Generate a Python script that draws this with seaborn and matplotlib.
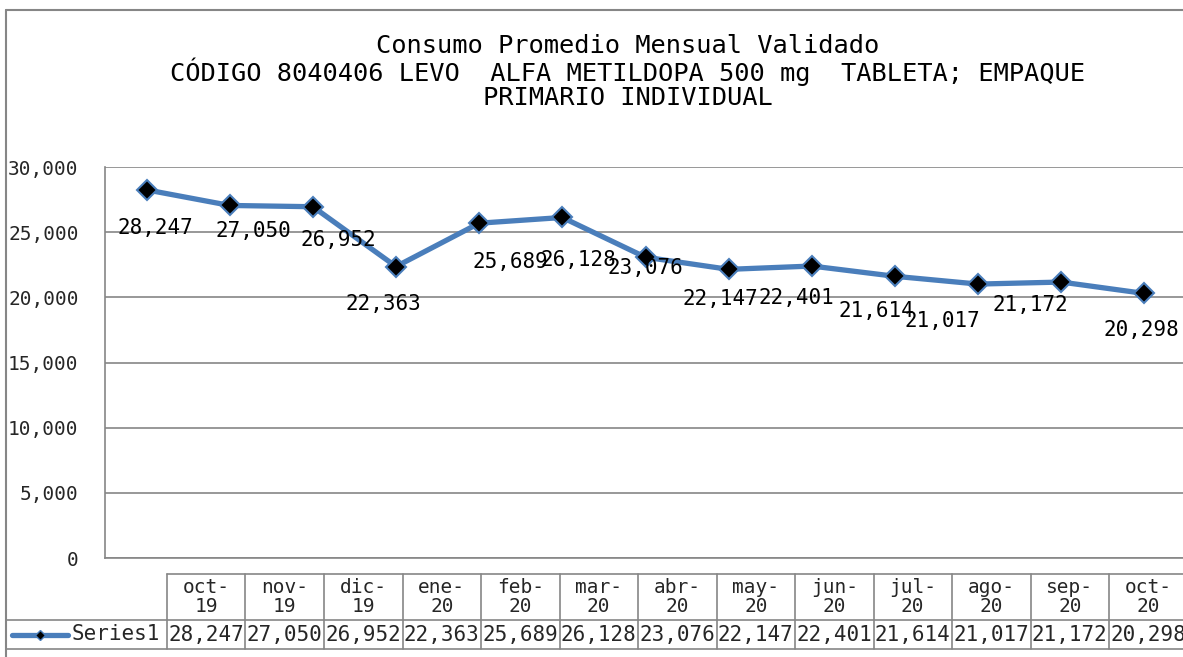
import numpy as np
import pandas as pd
import matplotlib
matplotlib.use("Agg")
import matplotlib.pyplot as plt
import seaborn as sns
from matplotlib.lines import Line2D

# ---- data ----
months = ["oct-\n19", "nov-\n19", "dic-\n19", "ene-\n20", "feb-\n20", "mar-\n20", "abr-\n20",
          "may-\n20", "jun-\n20", "jul-\n20", "ago-\n20", "sep-\n20", "oct-\n20"]
values = [28247, 27050, 26952, 22363, 25689, 26128, 23076, 22147, 22401, 21614, 21017, 21172, 20298]
series_name = "Series1"
title_lines = ["Consumo Promedio Mensual Validado",
               "CÓDIGO 8040406 LEVO  ALFA METILDOPA 500 mg  TABLETA; EMPAQUE",
               "PRIMARIO INDIVIDUAL"]
yticks = [0, 5000, 10000, 15000, 20000, 25000, 30000]

# label offsets in pixels (dx right, dy down) – layout only
label_offsets = [(9, 38), (24, 26), (25, 33), (-13, 37), (31, 39), (16, 43), (0, 11),
                 (-8, 30), (-15, 32), (-19, 35), (-36, 37), (-31, 23), (-3, 37)]

sns.set_style("white")
plt.rcParams['font.family'] = ['DejaVu Sans Mono', 'DejaVu Sans']

W, H = 1183, 657
fig = plt.figure(figsize=(W / 100, H / 100), dpi=100)

def fx(px):
    return px / W

def fy(py):
    return 1 - py / H

LINE_C = "#4a7ebb"
GRID_C = "#868686"

# main plot axes
left, right, top, bottom = 105, 1186, 167, 558
ax = fig.add_axes([fx(left), fy(bottom), (right - left) / W, (bottom - top) / H])
df = pd.DataFrame({"x": np.arange(len(values)), "y": values})
sns.lineplot(data=df, x="x", y="y", ax=ax, color=LINE_C, linewidth=3.8,
             marker="D", markersize=10.5, markerfacecolor="black",
             markeredgecolor=LINE_C, markeredgewidth=1.5, clip_on=False)
ax.set_xlim(-0.5, len(values) - 0.5)
ax.set_ylim(0, 30000)
ax.set_yticks(yticks)
ax.set_yticklabels([f"{v:,}" for v in yticks], fontsize=14)
ax.set_xticks([])
ax.set_xlabel("")
ax.set_ylabel("")
ax.tick_params(axis="y", length=0, pad=19)
ax.yaxis.grid(True, color=GRID_C, linewidth=1.2)
for s in ["top", "right"]:
    ax.spines[s].set_visible(False)
for s in ["left", "bottom"]:
    ax.spines[s].set_color(GRID_C)
    ax.spines[s].set_linewidth(1.2)

for i, v in enumerate(values):
    dx, dy = label_offsets[i]
    ax.annotate(f"{v:,}", (i, v), xytext=(dx, -dy), textcoords="offset pixels",
                ha="center", va="center", fontsize=15, color="black")

# title
fig.text(fx(628), fy(72), "\n".join(title_lines), ha="center", va="center",
         fontsize=18.3, linespacing=1.0, color="black")

# data table
col_left = 167
col_w = 78.5
n = len(values)
tax = fig.add_axes([fx(col_left), fy(649), n * col_w / W, (649 - 574) / H])
tax.set_xlim(0, n)
tax.set_ylim(0, 75)  # pixel units from bottom
tax.axis("off")
y_mid = 75 - (620 - 574)  # data row top in axes coords
lab_w = (col_left - 6) / col_w
kw = dict(color=GRID_C, linewidth=1.2, clip_on=False)
tax.plot([0, n + 1], [75, 75], **kw)
tax.plot([-lab_w, n + 1], [y_mid, y_mid], **kw)
tax.plot([-lab_w, n + 1], [0, 0], **kw)
for i in range(n + 1):
    tax.plot([i, i], [0, 75], **kw)
for i, m in enumerate(months):
    tax.text(i + 0.5, 75 - 23, m, ha="center", va="center", fontsize=14,
             linespacing=0.95)
    tax.text(i + 0.5, y_mid / 2, f"{values[i]:,}", ha="center", va="center",
             fontsize=15)
# legend key in table
key_y = y_mid / 2
tax.plot([-(col_left - 12) / col_w, -(col_left - 68) / col_w], [key_y, key_y],
         color=LINE_C, linewidth=3.8, clip_on=False, solid_capstyle="round")
tax.plot([-(col_left - 40) / col_w], [key_y], marker="D", markersize=5.5,
         color="black", markeredgecolor=LINE_C, clip_on=False)
tax.text(-(col_left - 72) / col_w, key_y, series_name, ha="left", va="center",
         fontsize=15)

# outer border
fig.add_artist(Line2D([fx(6), fx(6)], [fy(10), fy(700)], color=GRID_C, linewidth=1.5))
fig.add_artist(Line2D([fx(6), fx(1190)], [fy(10), fy(10)], color=GRID_C, linewidth=1.5))

fig.savefig("out.png", dpi=100)
